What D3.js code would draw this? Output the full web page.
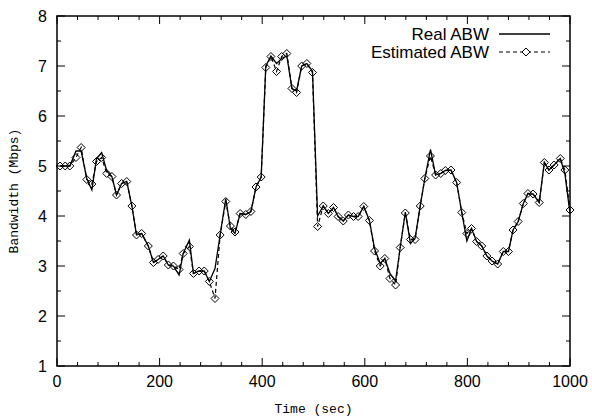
<!DOCTYPE html>
<html>
<head>
<meta charset="utf-8">
<script src="https://cdn.jsdelivr.net/npm/d3@7"></script>
<style>
  body { margin: 0; background: #fff; }
  .tick-label { font-family: "Liberation Sans", Arial, sans-serif; font-size: 16px; }
  .axis-title { font-family: "Liberation Mono", "DejaVu Sans Mono", monospace; font-size: 13px; }
  .legend { font-family: "Liberation Sans", Arial, sans-serif; font-size: 17px; }
</style>
</head>
<body>
<div id="chart-area"></div>
<script>
// Data (time in sec, bandwidth in Mbps)
var times = [6, 16, 25, 37, 47, 58, 68, 77, 87, 97, 107, 116, 126, 136, 146, 155, 165,
    178, 188, 197, 207, 217, 227, 238, 246, 258, 266, 277, 287, 297, 308, 318, 329, 338, 347, 357, 368, 378, 388, 398,
    407, 417, 428, 438, 448, 458, 467, 477, 487, 498,
    508, 519, 529, 539, 548, 558, 568, 578, 587, 598, 609, 619, 630, 639, 649, 660,
    669, 679, 689, 698, 708, 717, 728, 738, 748, 757, 768, 779, 789, 799, 808, 818, 828, 838,
    848, 859, 870, 880, 889, 899, 909, 918, 928, 940, 950, 959, 969, 981, 990, 1000];

var realAbw = [5.0, 5.0, 5.0, 5.3, 5.3, 4.75, 4.52, 5.15, 5.27, 4.9, 4.79, 4.42, 4.65, 4.69, 4.2, 3.62, 3.65,
    3.4, 3.07, 3.13, 3.2, 3.02, 3.0, 2.82, 3.25, 3.52, 2.85, 2.9, 2.9, 2.69, 2.95, 3.62, 4.35, 3.75, 3.65, 4.05, 4.03, 4.09, 4.58, 4.78,
    7.0, 7.2, 7.05, 7.15, 7.2, 6.55, 6.5, 7.0, 7.05, 6.9,
    4.0, 4.2, 4.05, 4.17, 3.99, 3.9, 4.02, 3.99, 3.99, 4.19, 3.91, 3.35, 3.05, 3.15, 2.85, 2.7,
    3.37, 4.08, 3.45, 3.55, 4.2, 4.75, 5.33, 4.82, 4.85, 4.91, 4.92, 4.67, 4.07, 3.5, 3.75, 3.49, 3.4, 3.2,
    3.1, 3.04, 3.29, 3.29, 3.72, 3.89, 4.25, 4.45, 4.44, 4.27, 5.07, 4.92, 5.02, 5.15, 4.85, 4.05];

var estAbw = [5.0, 5.0, 5.0, 5.17, 5.37, 4.73, 4.64, 5.09, 5.17, 4.85, 4.79, 4.42, 4.65, 4.69, 4.2, 3.62, 3.65,
    3.4, 3.07, 3.13, 3.2, 3.02, 3.0, 2.93, 3.25, 3.39, 2.85, 2.9, 2.9, 2.69, 2.35, 3.62, 4.29, 3.8, 3.68, 4.05, 4.03, 4.09, 4.58, 4.78,
    6.97, 7.19, 6.89, 7.19, 7.25, 6.55, 6.47, 7.0, 7.05, 6.87,
    3.79, 4.2, 4.05, 4.17, 3.99, 3.9, 4.02, 3.99, 3.99, 4.19, 3.91, 3.3, 3.0, 3.15, 2.75, 2.62,
    3.37, 4.06, 3.53, 3.53, 4.2, 4.75, 5.2, 4.82, 4.85, 4.91, 4.92, 4.67, 4.07, 3.65, 3.75, 3.49, 3.4, 3.2,
    3.1, 3.04, 3.29, 3.29, 3.72, 3.89, 4.25, 4.45, 4.44, 4.27, 5.07, 4.92, 5.02, 5.15, 4.92, 4.12];

var xTicks = [0, 200, 400, 600, 800, 1000];
var yTicks = [1, 2, 3, 4, 5, 6, 7, 8];
var seriesNames = ["Real ABW", "Estimated ABW"];

// SVG drawing area
var margin = {top: 16, right: 22, bottom: 51, left: 57};
var width = 592 - margin.left - margin.right,
    height = 417 - margin.top - margin.bottom;

var svg = d3.select("#chart-area").append("svg")
    .attr("width", 592)
    .attr("height", 417)
    .append("g")
    .attr("transform", "translate(" + margin.left + "," + margin.top + ")");

// Scales
var x = d3.scaleLinear().domain([0, 1000]).range([0, width]);
var y = d3.scaleLinear().domain([1, 8]).range([height, 0]);

// Ticks on all four sides, pointing in (major and minor)
var xMinor = d3.range(0, 1001, 40).filter(function(v) { return xTicks.indexOf(v) < 0; });
var yMinor = d3.range(1.5, 8, 1);

function tickLines(vals, len, horizontal) {
    vals.forEach(function(v) {
        if (horizontal) {
            svg.append("line").attr("x1", x(v)).attr("x2", x(v)).attr("y1", height).attr("y2", height - len);
            svg.append("line").attr("x1", x(v)).attr("x2", x(v)).attr("y1", 0).attr("y2", len);
        } else {
            svg.append("line").attr("y1", y(v)).attr("y2", y(v)).attr("x1", 0).attr("x2", len);
            svg.append("line").attr("y1", y(v)).attr("y2", y(v)).attr("x1", width).attr("x2", width - len);
        }
    });
}
tickLines(xTicks, 8, true);
tickLines(xMinor, 4, true);
tickLines(yTicks, 8, false);
tickLines(yMinor, 4, false);
svg.selectAll("line").attr("stroke", "#000").attr("stroke-width", 1);

// Tick labels
svg.selectAll(".xlab").data(xTicks).enter().append("text")
    .attr("class", "tick-label")
    .attr("text-anchor", "middle")
    .attr("x", function(d) { return x(d); })
    .attr("y", height + 21)
    .text(function(d) { return d; });

svg.selectAll(".ylab").data(yTicks).enter().append("text")
    .attr("class", "tick-label")
    .attr("text-anchor", "end")
    .attr("x", -10)
    .attr("y", function(d) { return y(d) + 6; })
    .text(function(d) { return d; });

// Axis titles
svg.append("text")
    .attr("class", "axis-title")
    .attr("text-anchor", "middle")
    .attr("x", width / 2)
    .attr("y", height + 47)
    .text("Time (sec)");

svg.append("text")
    .attr("class", "axis-title")
    .attr("text-anchor", "middle")
    .attr("transform", "translate(" + (-39) + "," + (height / 2) + ") rotate(-90)")
    .text("Bandwidth (Mbps)");

// Lines
var line = d3.line()
    .x(function(d, i) { return x(times[i]); })
    .y(function(d) { return y(d); });

svg.append("path")
    .datum(realAbw)
    .attr("fill", "none")
    .attr("stroke", "#000")
    .attr("stroke-width", 1.3)
    .attr("d", line);

svg.append("path")
    .datum(estAbw)
    .attr("fill", "none")
    .attr("stroke", "#000")
    .attr("stroke-width", 1.2)
    .attr("stroke-dasharray", "4,3")
    .attr("d", line);

var diamond = "M0,-4L4,0L0,4L-4,0Z";
svg.selectAll(".pt").data(estAbw).enter().append("path")
    .attr("class", "pt")
    .attr("d", diamond)
    .attr("transform", function(d, i) { return "translate(" + x(times[i]) + "," + y(d) + ")"; })
    .attr("fill", "none")
    .attr("stroke", "#000")
    .attr("stroke-width", 1);

// Frame
svg.append("rect")
    .attr("width", width)
    .attr("height", height)
    .attr("fill", "none")
    .attr("stroke", "#000")
    .attr("stroke-width", 1.5);

// Legend
var legend = svg.append("g").attr("transform", "translate(432,0)");
seriesNames.forEach(function(name, i) {
    var ly = 18 + i * 18;
    legend.append("text")
        .attr("class", "legend")
        .attr("text-anchor", "end")
        .attr("x", 0)
        .attr("y", ly + 6)
        .text(name);
    legend.append("line")
        .attr("x1", 10).attr("x2", 61)
        .attr("y1", ly).attr("y2", ly)
        .attr("stroke", "#000")
        .attr("stroke-width", i === 0 ? 1.3 : 1.2)
        .attr("stroke-dasharray", i === 0 ? null : "4,3");
    if (i === 1) {
        legend.append("path")
            .attr("d", diamond)
            .attr("transform", "translate(37," + ly + ")")
            .attr("fill", "#fff")
            .attr("stroke", "#000");
    }
});
</script>
</body>
</html>
